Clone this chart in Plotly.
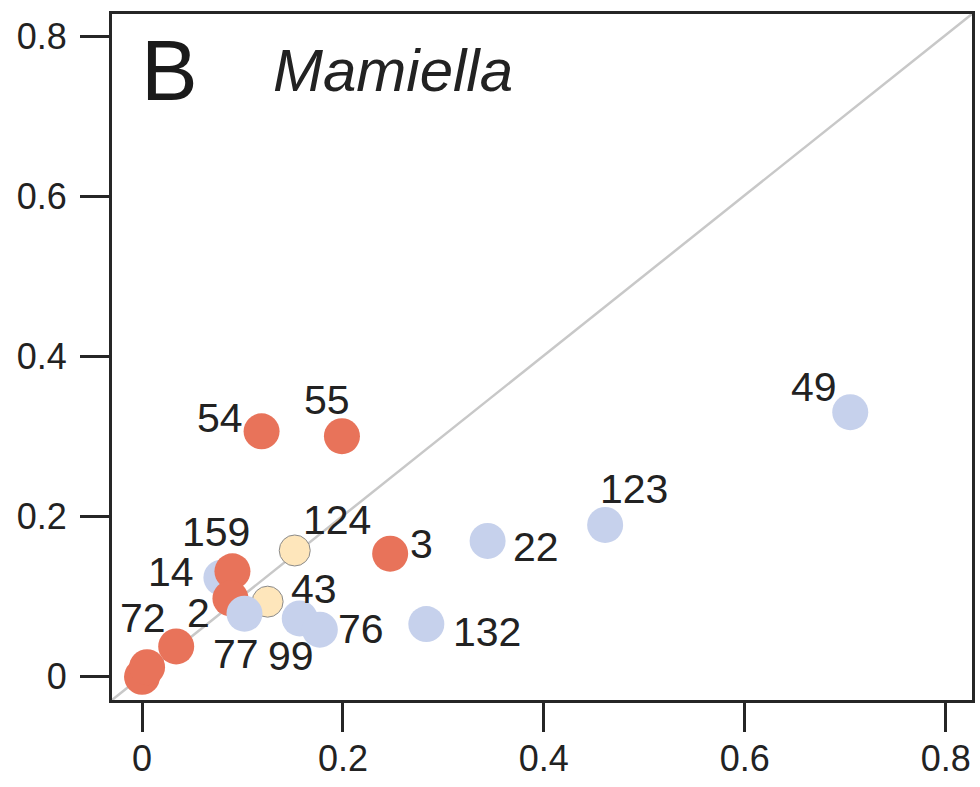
import plotly.graph_objects as go

# ---- data ----
labels = ["14", "159", "2", "43", "77", "124", "99", "76", "72", "0a", "0b",
          "3", "54", "55", "22", "132", "123", "49"]
x_vals = [0.079, 0.090, 0.088, 0.125, 0.102, 0.152, 0.157, 0.177, 0.034, 0.000, 0.005,
          0.247, 0.119, 0.199, 0.344, 0.283, 0.461, 0.705]
y_vals = [0.123, 0.131, 0.097, 0.093, 0.078, 0.157, 0.072, 0.058, 0.037, -0.001, 0.011,
          0.153, 0.306, 0.300, 0.169, 0.065, 0.189, 0.330]
groups = ["blue", "red", "red", "yellow", "blue", "yellow", "blue", "blue", "red", "red", "red",
          "red", "red", "red", "blue", "blue", "blue", "blue"]
tick_vals = [0, 0.2, 0.4, 0.6, 0.8]
tick_text = ["0", "0.2", "0.4", "0.6", "0.8"]
panel_letter = "B"
genus = "Mamiella"

# ---- styles ----
colors = {"red": "#E8735A", "blue": "#C6D1EC", "yellow": "#FEE6BB"}
sizes = {"red": 36, "blue": 36, "yellow": 31}
outline = {"red": 0, "blue": 0, "yellow": 1}
# label offsets in pixels (dx right, dy down) relative to each point
label_offsets = {
    "14": (-50, -6), "159": (-16, -39), "2": (-32, 15), "43": (46, -13),
    "77": (-9, 40), "124": (42, -30), "99": (-9, 38), "76": (41, -1),
    "72": (-33, -28), "3": (31, -10), "54": (-42, -13), "55": (-15, -36),
    "22": (48, 6), "132": (61, 8), "123": (29, -36), "49": (-36, -25),
}
ink = "#262626"
txt = "#222222"
font_family = "Liberation Sans, Arial, sans-serif"

fig = go.Figure()
fig.add_trace(go.Scatter(
    x=x_vals, y=y_vals, mode="markers",
    marker=dict(
        color=[colors[g] for g in groups],
        size=[sizes[g] for g in groups],
        line=dict(color="#8a8a8a", width=[outline[g] for g in groups]),
        opacity=1,
    ),
    hoverinfo="skip", showlegend=False,
))

for lab, xv, yv in zip(labels, x_vals, y_vals):
    if lab in label_offsets:
        dx, dy = label_offsets[lab]
        fig.add_annotation(x=xv, y=yv, text=lab, showarrow=False,
                           xshift=dx, yshift=-dy, xanchor="center", yanchor="middle",
                           font=dict(size=41, color=txt, family=font_family))

fig.add_shape(type="line", xref="paper", yref="paper", x0=0, y0=0, x1=1, y1=1,
              line=dict(color="#C8C8C8", width=2.5), layer="below")

fig.add_annotation(xref="paper", yref="paper", x=0.031, y=0.918, text=panel_letter,
                   showarrow=False, xanchor="left", yanchor="middle",
                   font=dict(size=85, color="#1a1a1a", family=font_family))
fig.add_annotation(xref="paper", yref="paper", x=0.185, y=0.918, text="<i>" + genus + "</i>",
                   showarrow=False, xanchor="left", yanchor="middle",
                   font=dict(size=60, color=txt, family=font_family))

axis_common = dict(
    showline=True, linewidth=3, linecolor=ink, mirror=True,
    ticks="outside", ticklen=29, tickwidth=3, tickcolor=ink,
    showgrid=False, zeroline=False, automargin=False,
    tickvals=tick_vals, ticktext=tick_text,
    tickfont=dict(size=36, color=txt, family=font_family),
)
fig.update_xaxes(range=[-0.0299, 0.8262], ticklabelstandoff=-4, **axis_common)
fig.update_yaxes(range=[-0.030, 0.828], ticklabelstandoff=6, **axis_common)

fig.update_layout(
    width=980, height=787,
    margin=dict(l=112, r=8, t=14, b=87),
    paper_bgcolor="white", plot_bgcolor="white",
)

fig.write_html("out.html", config={"displayModeBar": False},
               post_script="document.body.style.margin='0';document.body.style.padding='0';")
